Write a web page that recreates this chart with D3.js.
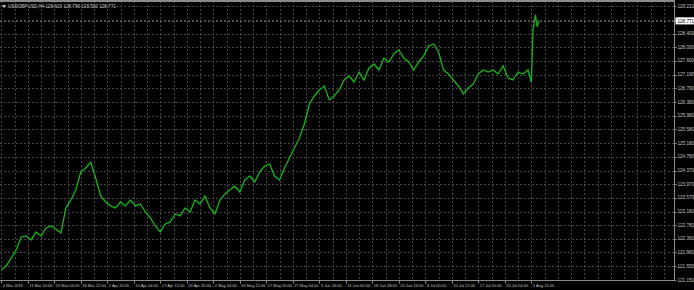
<!DOCTYPE html>
<html>
<head>
<meta charset="utf-8">
<script src="https://cdn.jsdelivr.net/npm/d3@7"></script>
<style>
    html, body { margin: 0; padding: 0; background: #000; overflow: hidden; }
    text { font-family: "Liberation Sans", Arial, sans-serif; }
</style>
</head>
<body>
<svg id="chart" width="694" height="290"></svg>
<script>
"use strict";

// symbol header and last bid
var symbolTitle = "USDGBPUSD,H4  128.610 128.796 128.530 128.771";
var lastPrice = 128.771;

// price scale labels (right side)
var priceTicks = [121.150, 121.550, 121.960, 122.360, 122.760, 123.160, 123.570, 123.970,
    124.370, 124.780, 125.180, 125.580, 125.980, 126.380, 126.790, 127.190, 127.600,
    128.000, 128.400, 128.810, 129.210];

// time scale labels, one every 32 H4 bars
var timeLabels = ["4 Mar 2019", "11 Mar 20:00", "19 Mar 04:00", "26 Mar 12:00", "2 Apr 20:00",
    "10 Apr 04:00", "17 Apr 12:00", "24 Apr 20:00", "2 May 04:00", "10 May 12:00",
    "17 May 20:00", "27 May 04:00", "3 Jun 16:00", "11 Jun 00:00", "18 Jun 08:00",
    "25 Jun 16:00", "3 Jul 00:00", "10 Jul 12:00", "17 Jul 20:00", "25 Jul 04:00",
    "1 Aug 12:00"];
var barsPerLabel = 32;

// bar number (H4 bars since 4 Mar) and close
var barIndex = [0, 6, 12, 18, 24, 30, 36, 42, 48, 54,
    60, 66, 72, 78, 84, 90, 96, 102, 108, 114,
    120, 126, 132, 138, 144, 150, 156, 162, 168, 174,
    180, 186, 192, 198, 204, 210, 216, 222, 228, 234,
    240, 246, 252, 258, 264, 270, 276, 282, 288, 294,
    300, 306, 312, 318, 324, 330, 336, 342, 348, 354,
    360, 366, 372, 378, 384, 390, 396, 402, 408, 414,
    420, 426, 432, 438, 444, 450, 456, 462, 468, 474,
    480, 486, 492, 498, 504, 510, 516, 522, 528, 534,
    540, 546, 552, 558, 564, 570, 576, 582, 588, 594,
    600, 606, 612, 618, 624, 630, 636,
    640, 642, 645, 647, 649];
var closes = [121.445, 121.563, 121.798, 122.034, 122.416, 122.445, 122.328, 122.563, 122.445, 122.681,
    122.739, 122.651, 122.534, 123.269, 123.504, 123.798, 124.328, 124.445, 124.622, 124.151,
    123.622, 123.445, 123.328, 123.269, 123.445, 123.328, 123.504, 123.328, 123.386, 123.151,
    122.975, 122.739, 122.563, 122.798, 122.857, 123.092, 123.034, 123.269, 123.151, 123.504,
    123.386, 123.622, 123.269, 123.092, 123.504, 123.681, 123.798, 123.916, 123.739, 124.092,
    124.210, 124.034, 124.328, 124.504, 124.563, 124.210, 124.092, 124.445, 124.739, 125.034,
    125.328, 125.739, 126.328, 126.563, 126.739, 126.857, 126.445, 126.563, 126.739, 127.034,
    127.151, 126.975, 127.269, 127.034, 127.386, 127.504, 127.328, 127.681, 127.563, 127.798,
    127.916, 127.681, 127.563, 127.328, 127.563, 127.739, 128.034, 128.092, 127.857, 127.328,
    127.210, 127.034, 126.857, 126.622, 126.798, 126.916, 127.210, 127.328, 127.269, 127.328,
    127.210, 127.445, 127.092, 127.034, 127.269, 127.210, 127.328,
    126.970, 128.500, 128.950, 128.600, 128.771];

var W = 694, H = 290,
    plot = {left: 0, right: 674.5, top: 1, bottom: 280.5};

var svg = d3.select('#chart');

var x = d3.scaleLinear().domain([0, 640]).range([1.3, 531.3]);
var y = d3.scaleLinear().domain([121.15, 129.21]).range([280, 6]);

svg.append('rect').attr('width', W).attr('height', H).attr('fill', '#000');

// grid
var grid = svg.append('g')
    .attr('stroke', '#464646')
    .attr('stroke-width', 1)
    .attr('stroke-dasharray', '2,2')
    .attr('shape-rendering', 'crispEdges');

var vLines = d3.range(0, 820, barsPerLabel / 2).filter(function (b) {
    return x(b) < plot.right - 2;
});
grid.selectAll('line.v').data(vLines).enter().append('line')
    .attr('x1', function (d) { return Math.round(x(d)) + 0.5; })
    .attr('x2', function (d) { return Math.round(x(d)) + 0.5; })
    .attr('y1', plot.top)
    .attr('y2', plot.bottom);

grid.selectAll('line.h').data(priceTicks).enter().append('line')
    .attr('x1', plot.left)
    .attr('x2', plot.right)
    .attr('y1', function (d) { return Math.round(y(d)) + 0.5; })
    .attr('y2', function (d) { return Math.round(y(d)) + 0.5; });

// price series
var pts = barIndex.map(function (b, i) { return {b: b, p: closes[i]}; });
var line = d3.line()
    .x(function (d) { return x(d.b); })
    .y(function (d) { return y(d.p); });

svg.append('path')
    .datum(pts)
    .attr('d', line)
    .attr('fill', 'none')
    .attr('stroke', '#14b814')
    .attr('stroke-width', 1.3)
    .attr('stroke-linejoin', 'miter');

// frame
var frame = svg.append('g').attr('stroke', '#8c8c8c').attr('shape-rendering', 'crispEdges');
frame.append('line').attr('x1', plot.left).attr('x2', plot.right)
    .attr('y1', plot.top).attr('y2', plot.top).attr('stroke-width', 2);
frame.append('line').attr('x1', plot.right).attr('x2', plot.right)
    .attr('y1', plot.top).attr('y2', plot.bottom);
frame.append('line').attr('x1', plot.left).attr('x2', plot.right)
    .attr('y1', plot.bottom).attr('y2', plot.bottom);

// price axis
var pAxis = svg.append('g');
pAxis.selectAll('line').data(priceTicks).enter().append('line')
    .attr('x1', plot.right).attr('x2', plot.right + 2)
    .attr('y1', function (d) { return Math.round(y(d)) + 0.5; })
    .attr('y2', function (d) { return Math.round(y(d)) + 0.5; })
    .attr('stroke', '#8c8c8c');
pAxis.selectAll('text').data(priceTicks).enter().append('text')
    .attr('x', plot.right + 3)
    .attr('y', function (d) { return y(d); })
    .attr('dy', '0.35em')
    .attr('font-size', 4.6)
    .attr('fill', '#c4c4c4')
    .text(function (d) { return d.toFixed(3); });

// last price marker
var ly = y(lastPrice);
svg.append('line')
    .attr('x1', plot.left).attr('x2', plot.right)
    .attr('y1', Math.round(ly) + 0.5).attr('y2', Math.round(ly) + 0.5)
    .attr('stroke', '#5a5a5a').attr('stroke-dasharray', '2,2')
    .attr('shape-rendering', 'crispEdges');
svg.append('rect')
    .attr('x', plot.right + 1).attr('y', ly - 3.5)
    .attr('width', 19).attr('height', 7)
    .attr('fill', '#ffffff');
svg.append('text')
    .attr('x', plot.right + 3).attr('y', ly).attr('dy', '0.35em')
    .attr('font-size', 4.6).attr('fill', '#000')
    .text(lastPrice.toFixed(3));

// time axis
var tAxis = svg.append('g');
tAxis.selectAll('line').data(timeLabels).enter().append('line')
    .attr('x1', function (d, i) { return Math.round(x(i * barsPerLabel)) + 0.5; })
    .attr('x2', function (d, i) { return Math.round(x(i * barsPerLabel)) + 0.5; })
    .attr('y1', plot.bottom).attr('y2', plot.bottom + 3)
    .attr('stroke', '#8c8c8c');
tAxis.selectAll('text').data(timeLabels).enter().append('text')
    .attr('x', function (d, i) { return x(i * barsPerLabel) + 1.5; })
    .attr('y', 287)
    .attr('font-size', 4)
    .attr('fill', '#c4c4c4')
    .text(function (d) { return d; });

// header
svg.append('path')
    .attr('d', d3.symbol().type(d3.symbolTriangle).size(6)())
    .attr('transform', 'translate(4,6) rotate(180)')
    .attr('fill', '#c4c4c4');
svg.append('text')
    .attr('x', 8).attr('y', 7.5)
    .attr('font-size', 4.6).attr('fill', '#c4c4c4')
    .text(symbolTitle);
</script>
</body>
</html>
